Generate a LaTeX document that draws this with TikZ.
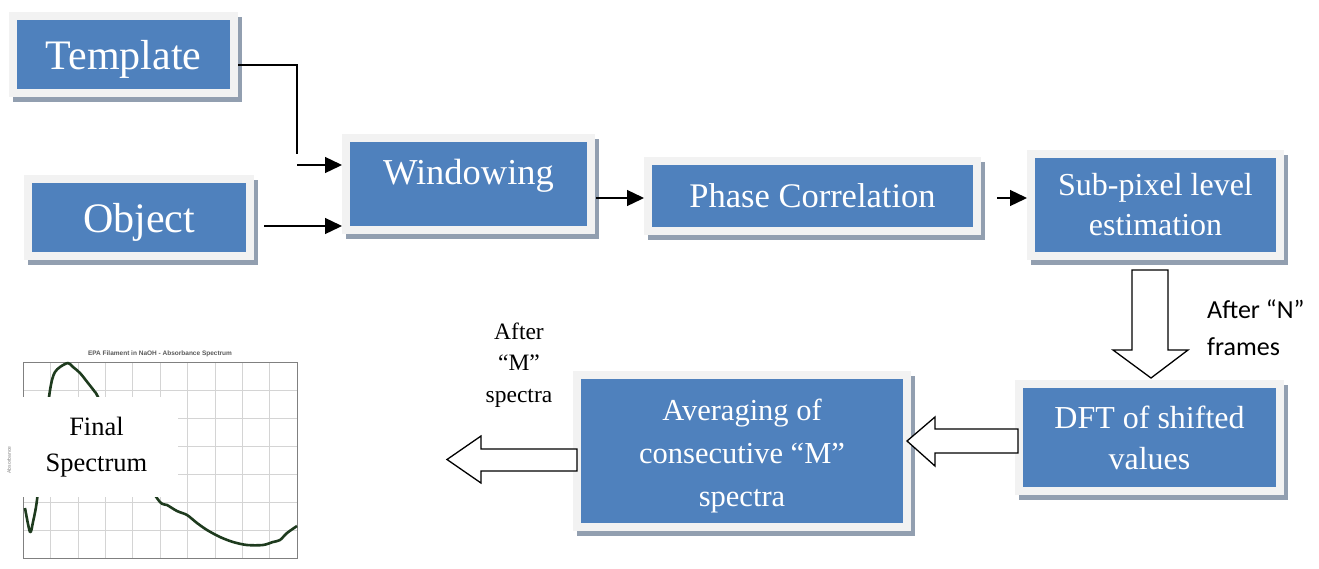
\documentclass[tikz,border=0pt]{standalone}
\usepackage{fontspec}
\setmainfont{Liberation Serif}
\newfontfamily\calibrifont{Carlito}
\newfontfamily\arialfont{Liberation Sans}
\usetikzlibrary{arrows.meta,calc}
\definecolor{boxblue}{HTML}{4F81BD}
\definecolor{boxrim}{HTML}{F2F2F2}
\definecolor{boxshade}{HTML}{929FB0}
\definecolor{curvegreen}{HTML}{1E3B1E}
\definecolor{gridgray}{HTML}{D4D4D4}
\begin{document}
\begin{tikzpicture}[x=1pt,y=-1pt,
  bluebox/.style={fill=boxblue, draw=boxrim, line width=8pt, text=white, align=center, inner sep=0pt,
    preaction={draw=boxshade, fill=boxshade, transform canvas={xshift=4pt,yshift=-5pt}}},
  arr/.style={-{Triangle[length=17pt,width=16pt]}, line width=1.3pt},
  plainline/.style={line width=1.3pt},
  blockarrow/.style={draw=black, fill=white, line width=1.3pt, line join=miter},
  gridline/.style={draw=gridgray, line width=0.6pt},
]
\useasboundingbox (0,0) rectangle (1319,568);

% ---- spectrum plot ----
\foreach \i in {1,...,9} \draw[gridline] (23+27.4*\i,362) -- ++(0,196);
\foreach \j in {1,...,6} \draw[gridline] (23,362+28*\j) -- ++(274,0);
\draw[gray, line width=0.6pt] (23,362) rectangle (297,558);
\draw[curvegreen, line width=2.6pt, line join=round] plot[smooth, tension=0.5] coordinates {(25,508) (30,532) (33,522) (37,500) (42,450) (49,397) (52,380) (55,372) (60,367) (68,363) (73,367) (80,373) (88,383) (95,392) (98,397) (120,440) (145,480) (160,502) (167,505) (177,511) (187,515) (197,523) (207,530) (220,537) (233,542) (247,545) (263,545) (273,542) (280,540) (287,533) (297,526)};
\node[font=\arialfont\bfseries\fontsize{6.5}{7}\selectfont, text=gray!70!black] (ptitle) at (160,354) {EPA Filament in NaOH - Absorbance Spectrum};
\node[rotate=90, font=\arialfont\fontsize{5}{6}\selectfont, text=gray] (ylab) at (9,460) {Absorbance};
\node[fill=white, minimum width=163pt, minimum height=100pt, inner sep=0pt, align=center, font=\fontsize{26.5}{36}\selectfont] (final) at (96.5,447) {Final\\Spectrum};

% ---- boxes ----
\node[bluebox, minimum width=221pt, minimum height=77pt, text depth=0pt, font=\fontsize{42}{50}\selectfont] (tmpl) at (123.5,54.5) {Template};
\node[bluebox, minimum width=222pt, minimum height=77pt, text depth=0pt, font=\fontsize{42}{50}\selectfont] (obj) at (139,217.5) {Object};
\node[bluebox, minimum width=245pt, minimum height=92pt, text depth=25pt, font=\fontsize{36.5}{44}\selectfont] (win) at (468.5,184) {Windowing};
\node[bluebox, minimum width=329pt, minimum height=70pt, font=\fontsize{34.5}{41}\selectfont] (phase) at (812.5,196) {Phase Correlation};
\node[bluebox, minimum width=249pt, minimum height=102pt, font=\fontsize{32}{40}\selectfont] (sub) at (1155.5,205) {Sub-pixel level\\estimation};
\node[bluebox, minimum width=261pt, minimum height=107pt, font=\fontsize{32}{41}\selectfont] (dft) at (1149.5,437.5) {DFT of shifted\\values};
\node[bluebox, minimum width=330pt, minimum height=152pt, font=\fontsize{30.5}{43}\selectfont] (avg) at (742,451) {\rule{0pt}{8pt}\\[-20pt]Averaging of\\consecutive “M”\\spectra};

% ---- labels ----
\node[font=\fontsize{23.5}{31.5}\selectfont, align=center] (afterm) at (519,365) {After\\“M”\\spectra};
\node[font=\calibrifont\fontsize{26}{37}\selectfont, align=left, anchor=west, inner sep=0pt] (aftern) at (1207,328) {After “N”\\frames};

% ---- connectors ----
\coordinate (j0) at (297,154);
\coordinate (j1) at (297,165);
\draw[plainline] ([yshift=-10.5pt]tmpl.east) -| (j0);
\draw[arr] (j1) -- (j1 -| win.west);
\draw[arr] ([xshift=10pt,yshift=-8.5pt]obj.east) coordinate (o1) -- (o1 -| win.west);
\draw[arr] ([xshift=1pt,yshift=-14pt]win.east) coordinate (w1) -- (w1 -| phase.west);
\draw[arr] ([xshift=16pt,yshift=-2pt]phase.east) coordinate (p1) -- (p1 -| sub.west);

% ---- block arrows ----
\draw[blockarrow] (1132,270) -- (1168,270) -- (1168,350) -- (1188,350) -- (1151,378) -- (1113,350) -- (1132,350) -- cycle;
\draw[blockarrow] (1018,429) -- (1018,453) -- (935,453) -- (935,466) -- (907,441) -- (935,417) -- (935,429) -- cycle;
\draw[blockarrow] (577,449) -- (577,471) -- (481,471) -- (481,483) -- (447,459.5) -- (481,436) -- (481,449) -- cycle;
\end{tikzpicture}
\end{document}
